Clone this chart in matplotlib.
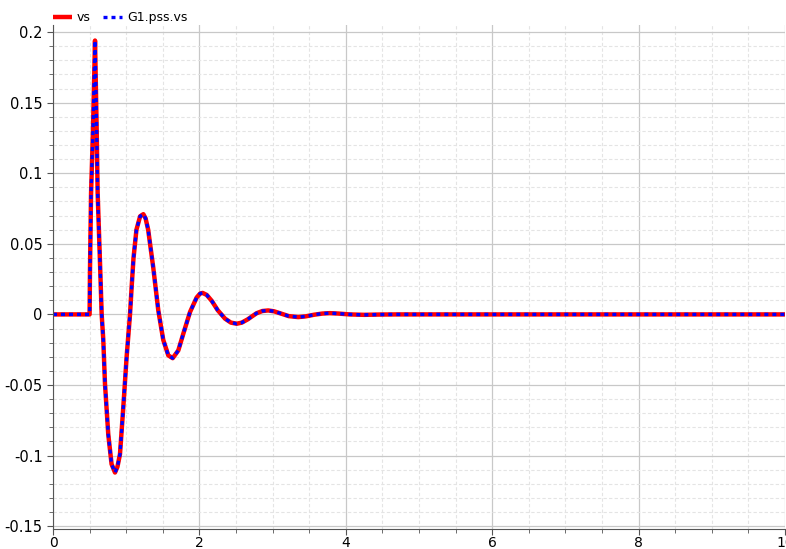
import matplotlib.pyplot as plt
from matplotlib.ticker import MultipleLocator, FuncFormatter

# values
t = [0.0, 0.5, 0.505, 0.52, 0.546, 0.574, 0.597, 0.61, 0.64, 0.665, 0.687,
     0.71, 0.755, 0.80, 0.847, 0.88, 0.915, 0.96, 1.006, 1.052, 1.075, 1.10,
     1.14, 1.19, 1.234, 1.265, 1.30, 1.37, 1.438, 1.506, 1.575, 1.635,
     1.712, 1.78, 1.872, 1.963, 2.01, 2.045, 2.10, 2.17, 2.25, 2.35, 2.43,
     2.51, 2.58, 2.66, 2.78, 2.86, 2.94, 3.02, 3.12, 3.22, 3.35, 3.45, 3.57,
     3.68, 3.78, 3.9, 4.05, 4.25, 4.45, 4.7, 10.0]
vs = [0.0, 0.0, 0.03, 0.086, 0.13, 0.194, 0.13, 0.086, 0.04, 0.0, -0.018,
      -0.049, -0.085, -0.106, -0.112, -0.108, -0.099, -0.066, -0.030, 0.0,
      0.020, 0.040, 0.060, 0.0695, 0.071, 0.068, 0.060, 0.033, 0.003,
      -0.018, -0.029, -0.031, -0.0255, -0.0137, 0.0017, 0.012, 0.0148,
      0.0152, 0.0138, 0.0095, 0.003, -0.003, -0.0058, -0.0066, -0.0058,
      -0.0035, 0.0008, 0.0024, 0.0028, 0.0022, 0.0005, -0.0012, -0.0019,
      -0.0014, -0.0002, 0.0006, 0.0009, 0.0006, 0.0, -0.0003, -0.0001, 0.0, 0.0]
pss_vs = list(vs)

plt.rcParams['axes.unicode_minus'] = False

fig = plt.figure(figsize=(7.86, 5.49), dpi=100)
ax = fig.add_axes([53 / 786, 1 - 529 / 549, 732 / 786, 504 / 549])

ax.plot(t, vs, color='red', lw=3.2, label='vs', solid_capstyle='butt')
ax.plot(t, pss_vs, color='blue', lw=2.4, linestyle=(0, (1.2, 1.2)), label='G1.pss.vs')

ax.set_xlim(0, 10)
ax.set_ylim(-0.152, 0.205)
ax.xaxis.set_major_locator(MultipleLocator(2))
ax.xaxis.set_minor_locator(MultipleLocator(0.5))
ax.yaxis.set_major_locator(MultipleLocator(0.05))
ax.yaxis.set_minor_locator(MultipleLocator(0.01))
ax.yaxis.set_major_formatter(FuncFormatter(lambda v, p: f'{v:g}'))
ax.xaxis.set_major_formatter(FuncFormatter(lambda v, p: f'{v:g}'))

ax.grid(which='major', color='#c8c8c8', lw=0.9)
ax.grid(which='minor', color='#e4e4e4', lw=0.8, linestyle=(0, (3, 2)))
ax.set_axisbelow(True)

for s in ['top', 'right']:
    ax.spines[s].set_visible(False)
for s in ['left', 'bottom']:
    ax.spines[s].set_color('#555555')
ax.tick_params(which='major', length=4, color='#555555', labelsize=10.5)
ax.tick_params(which='minor', length=3, color='#555555')
ax.tick_params(axis='x', which='major', pad=1, labelsize=10)

fig.legend(loc='upper left', bbox_to_anchor=(42 / 786, 1.0), ncol=2, frameon=False,
           fontsize=9, handlelength=1.5, columnspacing=1.0, handletextpad=0.4)

fig.savefig('out.png', dpi=100)
